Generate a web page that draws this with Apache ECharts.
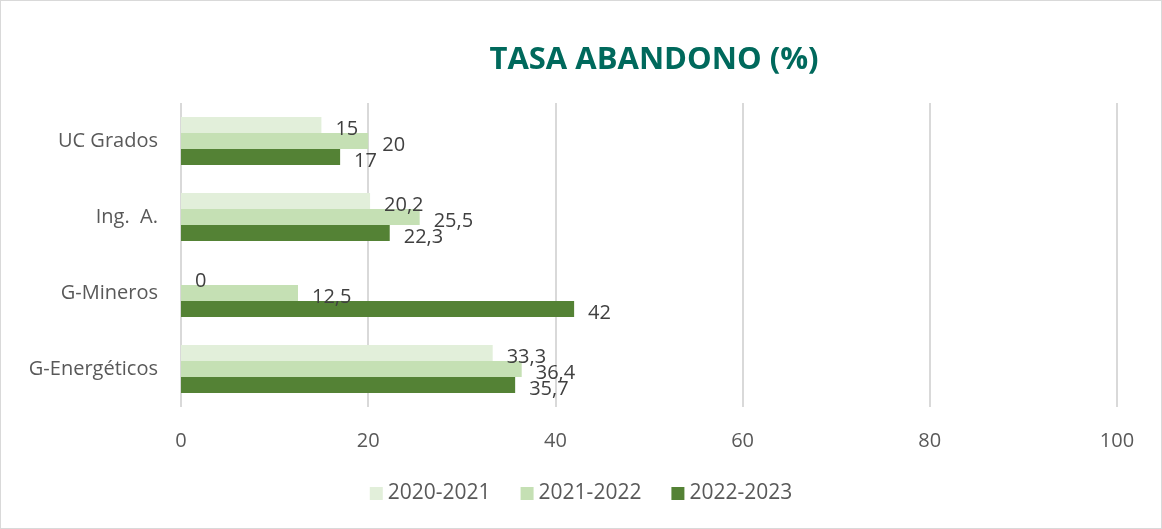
<!DOCTYPE html>
<html>
<head>
<meta charset="utf-8">
<script src="https://cdn.jsdelivr.net/npm/echarts@6/dist/echarts.min.js"></script>
<style>
  html, body { margin: 0; padding: 0; background: #fff; }
  #chart { width: 1162px; height: 529px; box-sizing: border-box; border: 1px solid #d9d9d9; }
</style>
</head>
<body>
<div id="chart"></div>
<script>
const categories = ['UC Grados', 'Ing.  A.', 'G-Mineros', 'G-Energéticos']
const seriesNames = ['2020-2021', '2021-2022', '2022-2023']
const values2020 = [15, 20.2, 0, 33.3]
const values2021 = [20, 25.5, 12.5, 36.4]
const values2022 = [17, 22.3, 42, 35.7]
const colors = ['#e2efda', '#c5e0b4', '#548235']

const fmt = (p) => String(p.value).replace('.', ',')

let chart = echarts.init(document.getElementById('chart'))

let makeSeries = (name, data, color) => ({
  name: name,
  type: 'bar',
  data: data,
  barWidth: 16,
  barGap: '0%',
  itemStyle: { color: color },
  label: {
    show: true,
    position: 'right',
    offset: [9, 4],
    formatter: fmt,
    color: '#404040',
    fontSize: 20,
    fontFamily: 'Open Sans'
  }
})

chart.setOption({
  animation: false,
  title: {
    text: 'TASA ABANDONO (%)',
    left: 648,
    top: 39,
    textAlign: 'center',
    textStyle: { color: '#00695c', fontSize: 31, fontWeight: 'bold', fontFamily: 'Open Sans' }
  },
  legend: {
    data: seriesNames,
    bottom: 19,
    left: 'center',
    itemWidth: 13,
    itemHeight: 13,
    itemGap: 30,
    icon: 'rect',
    textStyle: { color: '#595959', fontSize: 21, fontFamily: 'Open Sans' }
  },
  grid: { left: 180, right: 44, top: 102, bottom: 121 },
  xAxis: {
    type: 'value',
    min: 0,
    max: 100,
    interval: 20,
    axisLine: { show: false },
    axisTick: { show: false },
    axisLabel: { color: '#595959', fontSize: 20, margin: 24, fontFamily: 'Open Sans' },
    splitLine: { lineStyle: { color: '#d9d9d9', width: 2 } }
  },
  yAxis: {
    type: 'category',
    data: categories,
    inverse: true,
    axisLine: { show: false },
    axisTick: { show: false },
    axisLabel: { color: '#595959', fontSize: 20, margin: 23, fontFamily: 'Open Sans' }
  },
  series: [
    makeSeries(seriesNames[0], values2020, colors[0]),
    makeSeries(seriesNames[1], values2021, colors[1]),
    makeSeries(seriesNames[2], values2022, colors[2])
  ]
})
</script>
</body>
</html>
